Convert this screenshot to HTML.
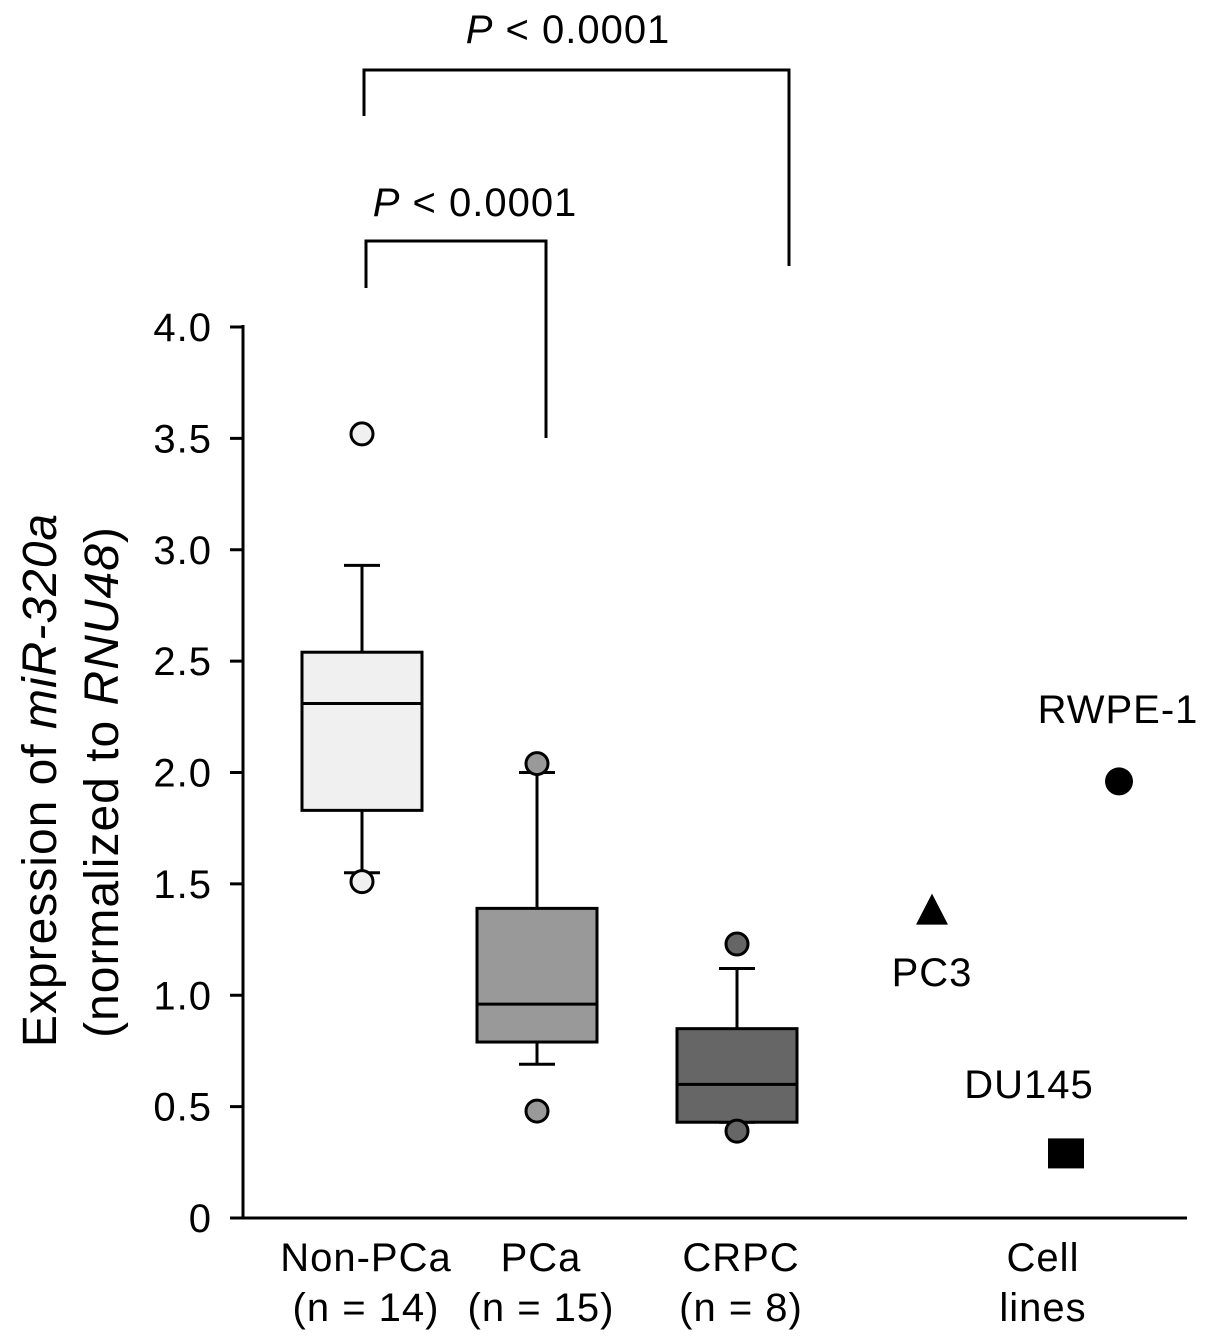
<!DOCTYPE html>
<html><head><meta charset="utf-8">
<style>
html,body{margin:0;padding:0;background:#fff;}
svg{display:block;font-family:"Liberation Sans",Arial,sans-serif;}
text{letter-spacing:1px;}
</style></head>
<body>
<svg id="chart" width="1205" height="1343" viewBox="0 0 1205 1343" xmlns="http://www.w3.org/2000/svg">
<g id="axes"></g>
<g id="marks"></g>
<g id="labels"></g>
</svg>
<script>
const categories = ["Non-PCa","PCa","CRPC"];
const nLabels = ["(n = 14)","(n = 15)","(n = 8)"];
const q1 = [1.83, 0.79, 0.43];
const medians = [2.31, 0.96, 0.60];
const q3 = [2.54, 1.39, 0.85];
const whiskerLow = [1.55, 0.69, 0.43];
const whiskerHigh = [2.93, 2.00, 1.12];
const outliers = [[3.52, 1.51],[2.04, 0.48],[1.23, 0.39]];
const fills = ["#f0f0f0","#999999","#666666"];
const cellLines = ["PC3","RWPE-1","DU145"];
const cellValues = [1.38, 1.96, 0.29];
const yTicks = [0,0.5,1.0,1.5,2.0,2.5,3.0,3.5,4.0];
const yTickLabels = ["0","0.5","1.0","1.5","2.0","2.5","3.0","3.5","4.0"];

const NS="http://www.w3.org/2000/svg";
function y(v){return 1218 - v*222.75;}
const catX=[362,537,737];
const cellX=[932,1119,1066];
function mk(tag,attrs,parent){const e=document.createElementNS(NS,tag);for(const k in attrs)e.setAttribute(k,attrs[k]);parent.appendChild(e);return e;}
const axes=document.getElementById('axes'),marks=document.getElementById('marks'),labels=document.getElementById('labels');
const S={stroke:"#000","stroke-width":3,fill:"none"};

let a=mk('line',Object.assign({x1:243,y1:325,x2:243,y2:1219},S),axes);


a=mk('line',Object.assign({x1:230,y1:1218,x2:1187,y2:1218},S),axes);


yTicks.forEach((v,i)=>{
 const t=mk('line',Object.assign({x1:230,y1:y(v),x2:243,y2:y(v)},S),axes);
 
 
 const l=mk('text',{x:212,y:y(v)+14,'text-anchor':'end','font-size':40},axes);
 l.textContent=yTickLabels[i];
 
 
});

categories.forEach((c,i)=>{
 const cx=catX[i],hw=60;
 let w=mk('line',Object.assign({x1:cx,y1:y(whiskerHigh[i]),x2:cx,y2:y(q3[i])},S),marks);
 
 
 w=mk('line',Object.assign({x1:cx-18,y1:y(whiskerHigh[i]),x2:cx+18,y2:y(whiskerHigh[i])},S),marks);
 
 
 w=mk('line',Object.assign({x1:cx,y1:y(q1[i]),x2:cx,y2:y(whiskerLow[i])},S),marks);
 
 
 w=mk('line',Object.assign({x1:cx-18,y1:y(whiskerLow[i]),x2:cx+18,y2:y(whiskerLow[i])},S),marks);
 
 
 const b=mk('rect',{x:cx-hw,y:y(q3[i]),width:2*hw,height:y(q1[i])-y(q3[i]),fill:fills[i],stroke:"#000","stroke-width":3},marks);
 
 
 const m=mk('line',Object.assign({x1:cx-hw,y1:y(medians[i]),x2:cx+hw,y2:y(medians[i])},S),marks);
 
 
 outliers[i].forEach(v=>{
  const o=mk('circle',{cx:cx,cy:y(v),r:11,fill:fills[i],stroke:"#000","stroke-width":3},marks);
  
  
 });
 let t=mk('text',{x:cx+4,y:1271,'text-anchor':'middle','font-size':40},labels);
 t.textContent=c;
 
 
 t=mk('text',{x:cx+4,y:1321,'text-anchor':'middle','font-size':40},labels);
 t.textContent=nLabels[i];
 
 
});

let cy=y(cellValues[0]);
let p=mk('polygon',{points:`${cellX[0]},${cy-17} ${cellX[0]-16},${cy+14} ${cellX[0]+16},${cy+14}`,fill:"#000"},marks);


p=mk('circle',{cx:cellX[1],cy:y(cellValues[1]),r:14,fill:"#000"},marks);


p=mk('rect',{x:cellX[2]-18,y:y(cellValues[2])-15,width:36,height:30,fill:"#000"},marks);


const cl=[[932,986],[1118,723],[1029,1098]];
cellLines.forEach((n,i)=>{
 const t=mk('text',{x:cl[i][0],y:cl[i][1],'text-anchor':'middle','font-size':40},labels);
 t.textContent=n;
 
 
});
let t=mk('text',{x:1043,y:1271,'text-anchor':'middle','font-size':40},labels);
t.textContent="Cell";


t=mk('text',{x:1043,y:1321,'text-anchor':'middle','font-size':40},labels);
t.textContent="lines";



p=mk('polyline',Object.assign({points:"366,288 366,241 546,241 546,438"},S),marks);


p=mk('polyline',Object.assign({points:"364,116 364,70 789,70 789,266"},S),marks);


[[475,216],[568,43]].forEach(([x,yy])=>{
 const s=mk('text',{x:x,y:yy,'text-anchor':'middle','font-size':40},labels);
 s.innerHTML='<tspan font-style="italic">P</tspan> &lt; 0.0001';
 
 
});

let yt=mk('text',{transform:'translate(56,780) rotate(-90)','text-anchor':'middle','font-size':48},labels);
yt.innerHTML='Expression of <tspan font-style="italic">miR-320a</tspan>';


yt=mk('text',{transform:'translate(118,782) rotate(-90)','text-anchor':'middle','font-size':48},labels);
yt.innerHTML='(normalized to <tspan font-style="italic">RNU48</tspan>)';


</script>
</body></html>
